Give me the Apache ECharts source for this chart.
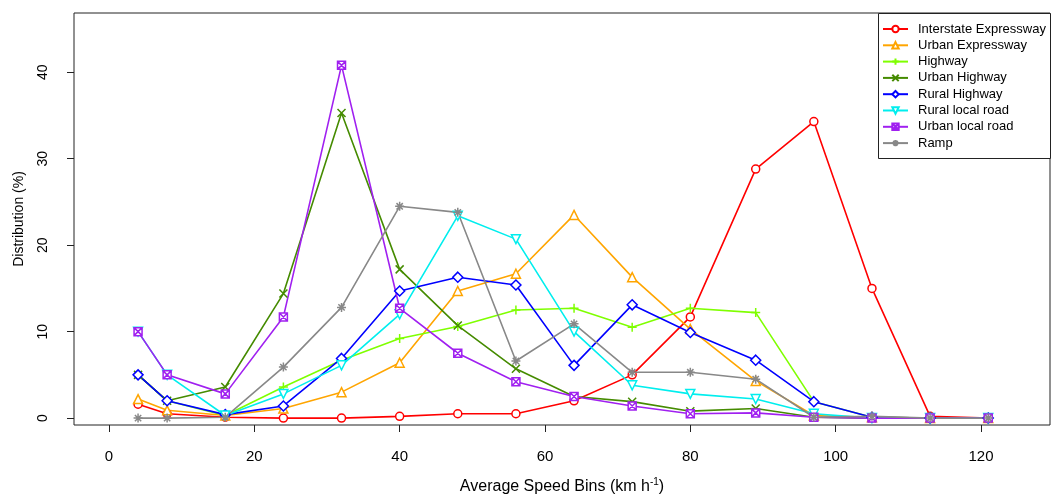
<!DOCTYPE html>
<html>
<head>
<meta charset="utf-8">
<script src="https://cdn.jsdelivr.net/npm/echarts@6/dist/echarts.min.js"></script>
<style>
html,body{margin:0;padding:0;background:#fff;}
#chart{width:1052px;height:502px;}
</style>
</head>
<body>
<div id="chart"></div>
<script>
// ---- data ----
var speedBins = [4, 8, 16, 24, 32, 40, 48, 56, 64, 72, 80, 89, 97, 105, 113, 121];
var seriesNames = ['Interstate Expressway', 'Urban Expressway', 'Highway', 'Urban Highway',
                   'Rural Highway', 'Rural local road', 'Urban local road', 'Ramp'];
var interstateExpressway = [1.6, 0.5, 0.1, 0, 0, 0.2, 0.5, 0.5, 2.0, 5.0, 11.7, 28.8, 34.3, 15.0, 0.2, 0];
var urbanExpressway      = [2.2, 0.9, 0.3, 1.1, 3.0, 6.4, 14.7, 16.7, 23.5, 16.3, 10.3, 4.3, 0.3, 0.1, 0, 0];
var highway              = [5.0, 2.0, 0.3, 3.6, 6.7, 9.2, 10.6, 12.5, 12.7, 10.5, 12.7, 12.2, 1.9, 0.1, 0, 0];
var urbanHighway         = [5.0, 2.0, 3.6, 14.4, 35.3, 17.2, 10.7, 5.7, 2.5, 1.9, 0.8, 1.1, 0.1, 0, 0, 0];
var ruralHighway         = [5.0, 2.0, 0.4, 1.4, 6.9, 14.7, 16.3, 15.4, 6.1, 13.1, 9.9, 6.7, 1.9, 0.1, 0, 0];
var ruralLocalRoad       = [10.0, 5.0, 0.3, 2.8, 6.1, 12.0, 23.4, 20.7, 10.0, 3.8, 2.8, 2.2, 0.5, 0, 0, 0];
var urbanLocalRoad       = [10.0, 5.0, 2.8, 11.7, 40.8, 12.7, 7.5, 4.2, 2.5, 1.4, 0.5, 0.6, 0.1, 0, 0, 0];
var ramp                 = [0, 0, 0.1, 5.9, 12.8, 24.5, 23.8, 6.6, 10.9, 5.3, 5.3, 4.5, 0.1, 0.2, 0, 0];
var xTicks = [0, 20, 40, 60, 80, 100, 120];
var yTicks = [0, 10, 20, 30, 40];

// ---- styles ----
var allValues = [interstateExpressway, urbanExpressway, highway, urbanHighway,
                 ruralHighway, ruralLocalRoad, urbanLocalRoad, ramp];
var colors = ['#FF0000', '#FFA500', '#7FFF00', '#458B00', '#0000FF', '#00EEEE', '#A020F0', '#888888'];
var symbols = [
  'circle',
  'triangle',
  'path://M5,0 L5,10 M0,5 L10,5',
  'path://M0,0 L10,10 M10,0 L0,10',
  'diamond',
  'path://M0,0 L10,0 L5,8.66 Z',
  'path://M0,0 L10,0 L10,10 L0,10 Z M0,0 L10,10 M10,0 L0,10',
  'path://M5,0 L5,10 M0,5 L10,5 M1.5,1.5 L8.5,8.5 M8.5,1.5 L1.5,8.5'
];
var sizes = [8, 9, 9, 8, 10, 9, 8, 9];
var FONT = 'Liberation Sans, Arial, Helvetica, sans-serif';

var series = allValues.map(function (vals, i) {
  return {
    name: seriesNames[i],
    type: 'line',
    data: speedBins.map(function (x, j) { return [x, vals[j]]; }),
    symbol: symbols[i],
    symbolSize: sizes[i],
    showAllSymbol: true,
    lineStyle: { color: colors[i], width: 1.6 },
    itemStyle: { color: '#ffffff', borderColor: colors[i], borderWidth: 1.5 },
    emphasis: { disabled: true },
    z: 2
  };
});

var chart = echarts.init(document.getElementById('chart'), null, { renderer: 'canvas' });
chart.setOption({
  animation: false,
  backgroundColor: '#ffffff',
  textStyle: { fontFamily: FONT },
  grid: {
    left: 74, top: 13, width: 976, height: 417,
    show: true, borderColor: '#222', borderWidth: 1, backgroundColor: 'transparent'
  },
  xAxis: {
    type: 'value',
    min: -4.816, max: 129.5,
    splitLine: { show: false },
    axisLine: { show: false, onZero: false },
    axisTick: { show: true, length: 7, lineStyle: { color: '#222' }, customValues: xTicks },
    axisLabel: { customValues: xTicks, color: '#000', fontSize: 15, margin: 24, fontFamily: FONT },
    name: 'Average Speed Bins (km h{sup|-1})',
    nameLocation: 'middle',
    nameGap: 52,
    nameTextStyle: {
      color: '#000', fontSize: 16, fontFamily: FONT, lineHeight: 20,
      rich: { sup: { fontSize: 10, verticalAlign: 'top', lineHeight: 20, color: '#000', fontFamily: FONT } }
    }
  },
  yAxis: {
    type: 'value',
    min: -0.8, max: 46.857,
    splitLine: { show: false },
    axisLine: { show: false, onZero: false },
    axisTick: { show: true, length: 7, lineStyle: { color: '#222' }, customValues: yTicks },
    axisLabel: { customValues: yTicks, color: '#000', fontSize: 14, rotate: 90, margin: 24, fontFamily: FONT },
    name: 'Distribution (%)',
    nameLocation: 'middle',
    nameGap: 48,
    nameTextStyle: { color: '#000', fontSize: 14, fontFamily: FONT }
  },
  legend: {
    orient: 'vertical',
    left: 882, top: 22,
    padding: 0,
    itemWidth: 25, itemHeight: 8, itemGap: 2.3,
    textStyle: { fontSize: 13, color: '#000', fontFamily: FONT, lineHeight: 14, padding: [0, 0, 0, 5] },
    data: seriesNames,
    selectedMode: false,
    z: 5
  },
  graphic: [{
    type: 'rect', z: 4,
    shape: { x: 878.5, y: 13.5, width: 172, height: 145 },
    style: { fill: '#fff', stroke: '#222', lineWidth: 1 }
  }],
  series: series
});
</script>
</body>
</html>
